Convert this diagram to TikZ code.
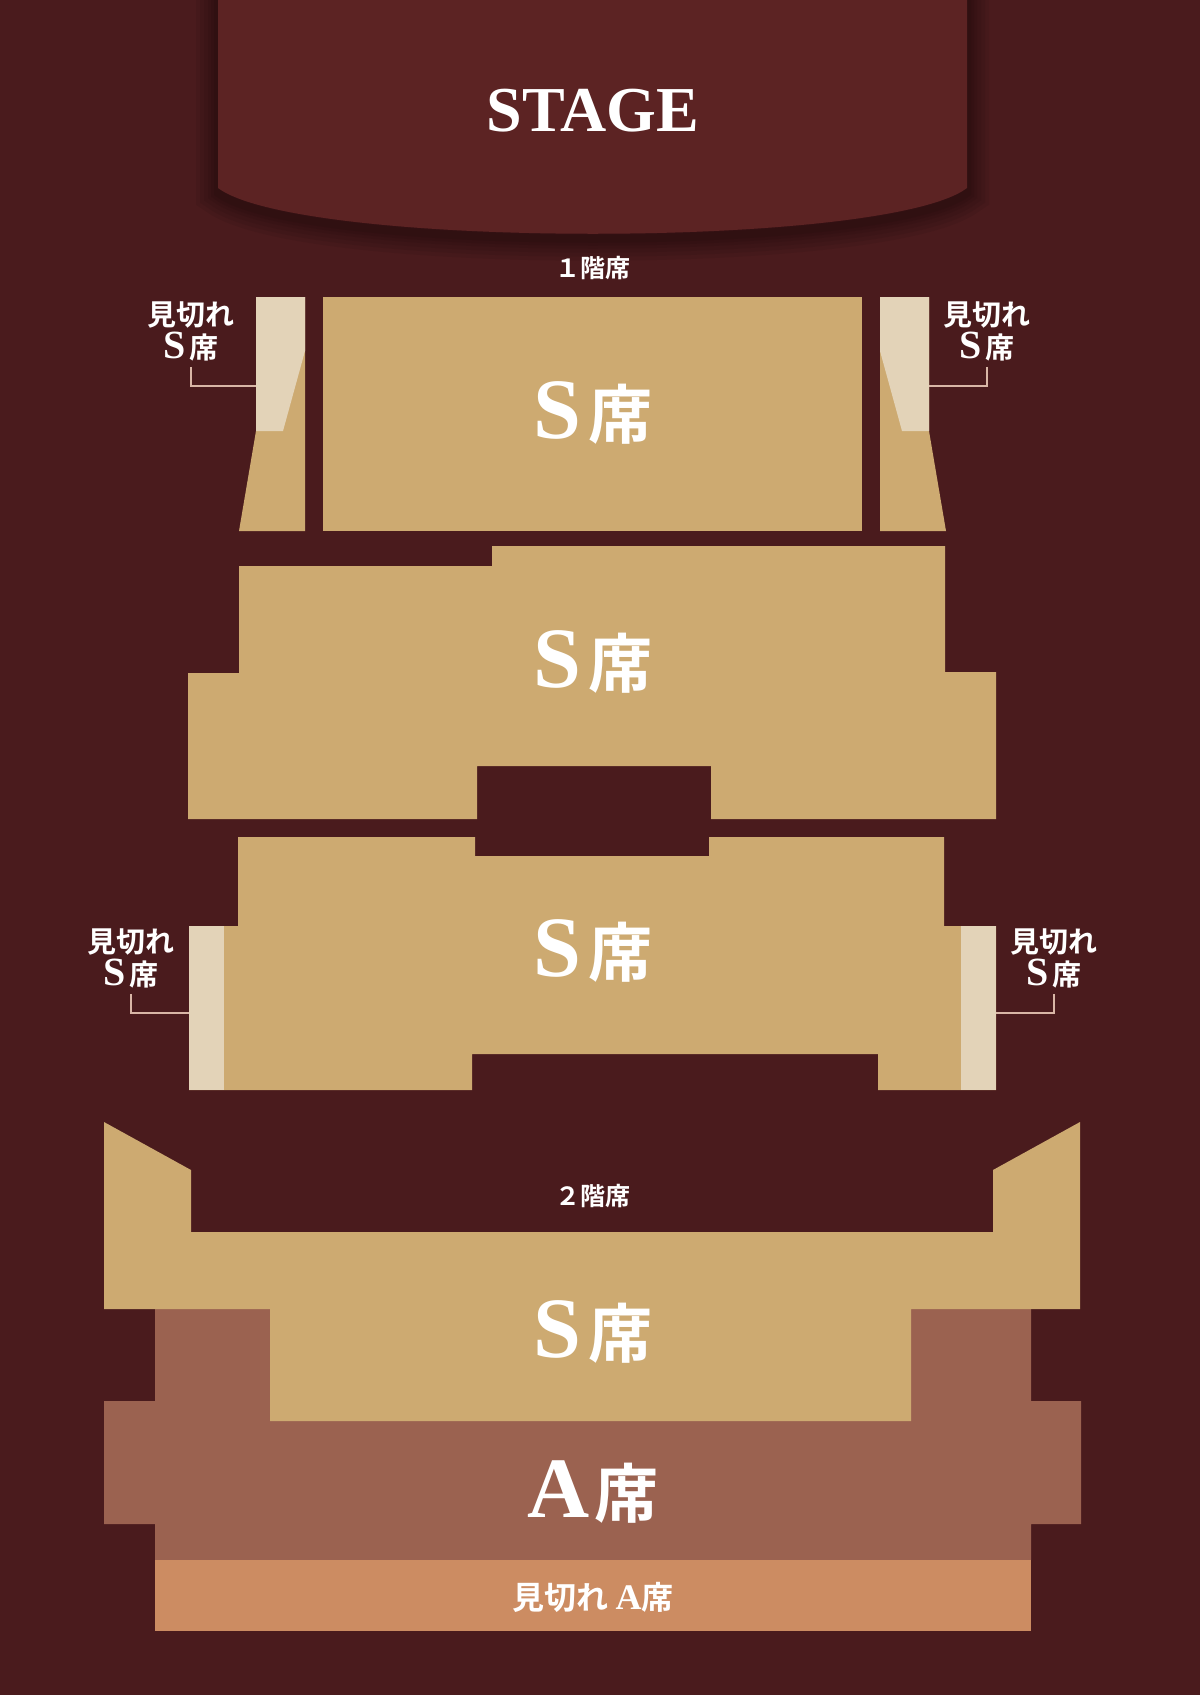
\documentclass[tikz,border=0pt]{standalone}
\usepackage{fontspec}
\setmainfont{Noto Sans CJK JP}[BoldFont={Noto Sans CJK JP Bold}]
\newfontfamily\latin{Liberation Serif}
\usepackage{xcolor}
\definecolor{hallBg}{HTML}{4A1B1D}
\definecolor{stageFill}{HTML}{5C2323}
\definecolor{seatS}{HTML}{CDAA71}
\definecolor{seatSLimited}{HTML}{E3D3B8}
\definecolor{seatA}{HTML}{9B6250}
\definecolor{seatALimited}{HTML}{CC8C62}
\definecolor{bracketPink}{HTML}{D9B6A6}
\newcommand{\lat}[2]{{\latin\bfseries\fontsize{#1}{#1}\selectfont #2}}
\tikzset{
    StageText/.style={text=white, inner sep=0pt},
    SeatText/.style={font=\fontsize{64}{64}\selectfont\bfseries, text=white, inner sep=0pt},
    FloorText/.style={font=\fontsize{25}{28}\selectfont\bfseries, text=white, inner sep=0pt},
    NoteText/.style={font=\fontsize{29}{33}\selectfont\bfseries, text=white, align=center, inner sep=3pt},
    LimitedAText/.style={font=\fontsize{32}{36}\selectfont\bfseries, text=white, inner sep=0pt},
    BracketLine/.style={bracketPink, line width=1.6pt}
}

\begin{document}
\begin{tikzpicture}[x=1pt, y=-1pt]
    \fill[hallBg] (0,0) rectangle (1200,1695);
    \useasboundingbox (0,0) rectangle (1200,1695);

    % 舞台と影
    \foreach \w in {44,36,28,20,14,8} {
        \draw[black, opacity=0.06, line width=\w pt, shift={(0,5)}]
            (218,-40) -- (218,188) .. controls (300,249) and (886,249) .. (967,188) -- (967,-40);
    }
    \fill[stageFill] (218,0) -- (218,188) .. controls (300,249) and (886,249) .. (967,188) -- (967,0) -- cycle;
    \node[StageText] (stage) at (593,111) {\lat{64}{STAGE}};

    \node[FloorText] (fl1) at (593,268) {１階席};

    % 1階 前方ブロック
    \fill[seatS] (239,531) -- (256,431) -- (256,297) -- (305,297) -- (305,531) -- cycle;
    \fill[seatSLimited] (256,297) -- (305,297) -- (305,351) -- (283,431) -- (256,431) -- cycle;
    \fill[seatS] (323,297) rectangle (862,531);
    \fill[seatS] (946,531) -- (929,431) -- (929,297) -- (880,297) -- (880,531) -- cycle;
    \fill[seatSLimited] (929,297) -- (880,297) -- (880,351) -- (902,431) -- (929,431) -- cycle;
    \node[SeatText] (s1) at (593,413) {\lat{86}{S}\hspace{7pt}席};

    % 1階 中央ブロック
    \fill[seatS] (239,566) -- (492,566) -- (492,546) -- (945,546) -- (945,672) -- (996,672)
        -- (996,819) -- (711,819) -- (711,766) -- (477,766) -- (477,819) -- (188,819)
        -- (188,673) -- (239,673) -- cycle;
    \node[SeatText] (s2) at (593,662) {\lat{86}{S}\hspace{7pt}席};

    % 1階 後方ブロック
    \fill[seatS] (238,837) -- (475,837) -- (475,856) -- (709,856) -- (709,837) -- (944,837)
        -- (944,926) -- (996,926) -- (996,1090) -- (878,1090) -- (878,1054) -- (472,1054)
        -- (472,1090) -- (189,1090) -- (189,926) -- (238,926) -- cycle;
    \fill[seatSLimited] (189,926) rectangle (224,1090);
    \fill[seatSLimited] (961,926) rectangle (996,1090);
    \node[SeatText] (s3) at (593,951) {\lat{86}{S}\hspace{7pt}席};

    % 見切れ席の注記
    \node[NoteText] (mkL1) at (191,331) {見切れ\\\lat{40}{S}\hspace{3pt}席};
    \node[NoteText] (mkR1) at (987,331) {見切れ\\\lat{40}{S}\hspace{3pt}席};
    \node[NoteText] (mkL2) at (131,958) {見切れ\\\lat{40}{S}\hspace{3pt}席};
    \node[NoteText] (mkR2) at (1054,958) {見切れ\\\lat{40}{S}\hspace{3pt}席};
    \coordinate (mkL1end) at (256,386);
    \coordinate (mkR1end) at (929,386);
    \coordinate (mkL2end) at (189,1013);
    \coordinate (mkR2end) at (996,1013);
    \draw[BracketLine] ([yshift=-3pt]mkL1.south) |- (mkL1end);
    \draw[BracketLine] ([yshift=-3pt]mkR1.south) |- (mkR1end);
    \draw[BracketLine] ([yshift=-3pt]mkL2.south) |- (mkL2end);
    \draw[BracketLine] ([yshift=-3pt]mkR2.south) |- (mkR2end);

    % 2階
    \fill[seatA] (155,1309) -- (1031,1309) -- (1031,1401) -- (1081,1401) -- (1081,1524)
        -- (1031,1524) -- (1031,1560) -- (155,1560) -- (155,1524) -- (104,1524)
        -- (104,1401) -- (155,1401) -- cycle;
    \fill[seatS] (104,1122) -- (191,1170) -- (191,1232) -- (993,1232) -- (993,1170) -- (1080,1122)
        -- (1080,1309) -- (911,1309) -- (911,1421) -- (270,1421) -- (270,1309) -- (104,1309) -- cycle;
    \fill[seatALimited] (155,1560) rectangle (1031,1631);
    \node[FloorText] (fl2) at (593,1196) {２階席};
    \node[SeatText] (s4) at (593,1332) {\lat{86}{S}\hspace{7pt}席};
    \node[SeatText] (a1) at (593,1492) {\lat{86}{A}\hspace{4pt}席};
    \node[LimitedAText] (a2) at (593,1597) {見切れ \lat{36}{A}席};
\end{tikzpicture}
\end{document}
